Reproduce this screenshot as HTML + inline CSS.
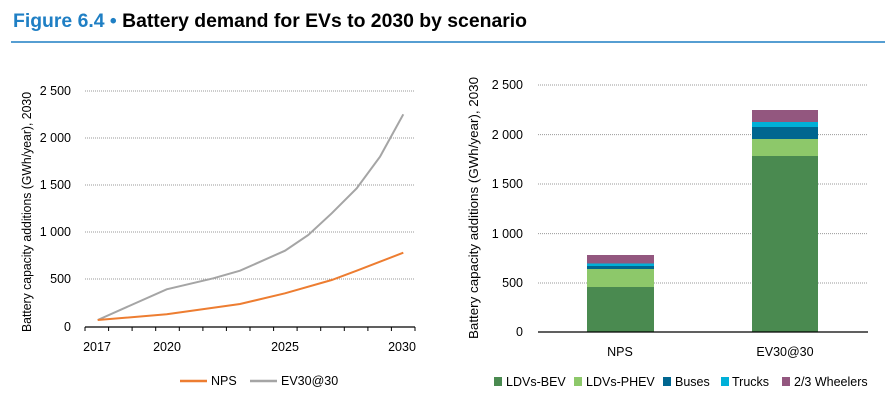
<!DOCTYPE html>
<html><head><meta charset="utf-8"><style>
body{margin:0;width:895px;height:407px;background:#fff;overflow:hidden;font-family:"Liberation Sans",sans-serif}
</style></head><body>
<svg width="895" height="407" xmlns="http://www.w3.org/2000/svg" font-family="Liberation Sans, sans-serif">
<text x="13" y="27" font-size="19" font-weight="bold" fill="#1f7fc4" textLength="514" lengthAdjust="spacingAndGlyphs">Figure 6.4 • <tspan fill="#000">Battery demand for EVs to 2030 by scenario</tspan></text>
<line x1="11" y1="42" x2="885" y2="42" stroke="#1f7fc4" stroke-width="1.5"/>
<!-- left chart -->
<g stroke="#999" stroke-dasharray="1,1" stroke-width="1">
<line x1="85" y1="91" x2="415" y2="91"/><line x1="85" y1="138" x2="415" y2="138"/><line x1="85" y1="185" x2="415" y2="185"/><line x1="85" y1="232" x2="415" y2="232"/><line x1="85" y1="279" x2="415" y2="279"/>
</g>
<line x1="85" y1="327" x2="415" y2="327" stroke="#000" stroke-width="1.2"/>
<g stroke="#000" stroke-width="1">
<line x1="85" y1="327" x2="85" y2="331"/><line x1="108.6" y1="327" x2="108.6" y2="331"/><line x1="132.1" y1="327" x2="132.1" y2="331"/><line x1="155.7" y1="327" x2="155.7" y2="331"/><line x1="179.3" y1="327" x2="179.3" y2="331"/><line x1="202.9" y1="327" x2="202.9" y2="331"/><line x1="226.4" y1="327" x2="226.4" y2="331"/><line x1="250" y1="327" x2="250" y2="331"/><line x1="273.6" y1="327" x2="273.6" y2="331"/><line x1="297.1" y1="327" x2="297.1" y2="331"/><line x1="320.7" y1="327" x2="320.7" y2="331"/><line x1="344.3" y1="327" x2="344.3" y2="331"/><line x1="367.9" y1="327" x2="367.9" y2="331"/><line x1="391.4" y1="327" x2="391.4" y2="331"/><line x1="415" y1="327" x2="415" y2="331"/>
</g>
<g font-size="12.5" text-anchor="end" fill="#000">
<text x="71" y="95">2 500</text><text x="71" y="142">2 000</text><text x="71" y="189">1 500</text><text x="71" y="236">1 000</text><text x="71" y="283">500</text><text x="71" y="331">0</text>
</g>
<g font-size="12.5" text-anchor="middle"><text x="97" y="351">2017</text><text x="167" y="351">2020</text><text x="285" y="351">2025</text><text x="402" y="351">2030</text></g>
<text transform="translate(31,212) rotate(-90)" font-size="13" text-anchor="middle" textLength="240" lengthAdjust="spacingAndGlyphs">Battery capacity additions (GWh/year), 2030</text>
<polyline fill="none" stroke="#a5a5a5" stroke-width="2" points="97.7,320 166.7,289.3 213.3,278.3 240,270.7 285,250.7 308.3,235 331.7,213.3 356.7,188.3 380,156.7 403.3,114.3"/>
<polyline fill="none" stroke="#ed7d31" stroke-width="2" points="97.7,320 166.7,314.3 240,304 285,293.3 331.7,280 356.7,270.7 380,261.7 403.3,252.7"/>
<line x1="180" y1="381" x2="207" y2="381" stroke="#ed7d31" stroke-width="2.5"/><text x="211" y="385" font-size="12.5">NPS</text>
<line x1="250" y1="381" x2="277" y2="381" stroke="#a5a5a5" stroke-width="2.5"/><text x="281" y="385" font-size="12.5">EV30@30</text>
<!-- right chart -->
<g stroke="#999" stroke-dasharray="1,1" stroke-width="1">
<line x1="538" y1="85" x2="868" y2="85"/><line x1="538" y1="134.6" x2="868" y2="134.6"/><line x1="538" y1="184" x2="868" y2="184"/><line x1="538" y1="233.6" x2="868" y2="233.6"/><line x1="538" y1="283" x2="868" y2="283"/>
</g>
<g font-size="12.5" text-anchor="end">
<text x="523" y="89">2 500</text><text x="523" y="139">2 000</text><text x="523" y="188">1 500</text><text x="523" y="238">1 000</text><text x="523" y="287">500</text><text x="523" y="336">0</text>
</g>
<text transform="translate(478,208) rotate(-90)" font-size="13" text-anchor="middle" textLength="262" lengthAdjust="spacingAndGlyphs">Battery capacity additions (GWh/year), 2030</text>
<rect x="587" y="287" width="67" height="45" fill="#4a8a50"/>
<rect x="587" y="269" width="67" height="18" fill="#8dc86a"/>
<rect x="587" y="266" width="67" height="3" fill="#006690"/>
<rect x="587" y="263.5" width="67" height="2.5" fill="#00b0d8"/>
<rect x="587" y="255" width="67" height="8.5" fill="#93577f"/>
<rect x="752" y="156" width="66" height="176" fill="#4a8a50"/>
<rect x="752" y="139" width="66" height="17" fill="#8dc86a"/>
<rect x="752" y="127" width="66" height="12" fill="#006690"/>
<rect x="752" y="122" width="66" height="5" fill="#00b0d8"/>
<rect x="752" y="110" width="66" height="12" fill="#93577f"/>
<line x1="538" y1="332" x2="868" y2="332" stroke="#000" stroke-width="1.2"/>
<g font-size="12.5" text-anchor="middle"><text x="620" y="356">NPS</text><text x="785" y="356">EV30@30</text></g>
<g font-size="12.5">
<rect x="494" y="377" width="8" height="9" fill="#4a8a50"/><text x="506" y="386">LDVs-BEV</text>
<rect x="574" y="377" width="8" height="9" fill="#8dc86a"/><text x="586" y="386">LDVs-PHEV</text>
<rect x="663" y="377" width="8" height="9" fill="#006690"/><text x="675" y="386">Buses</text>
<rect x="721" y="377" width="8" height="9" fill="#00b0d8"/><text x="732" y="386">Trucks</text>
<rect x="782" y="377" width="8" height="9" fill="#93577f"/><text x="794" y="386">2/3 Wheelers</text>
</g>
</svg>
</body></html>
